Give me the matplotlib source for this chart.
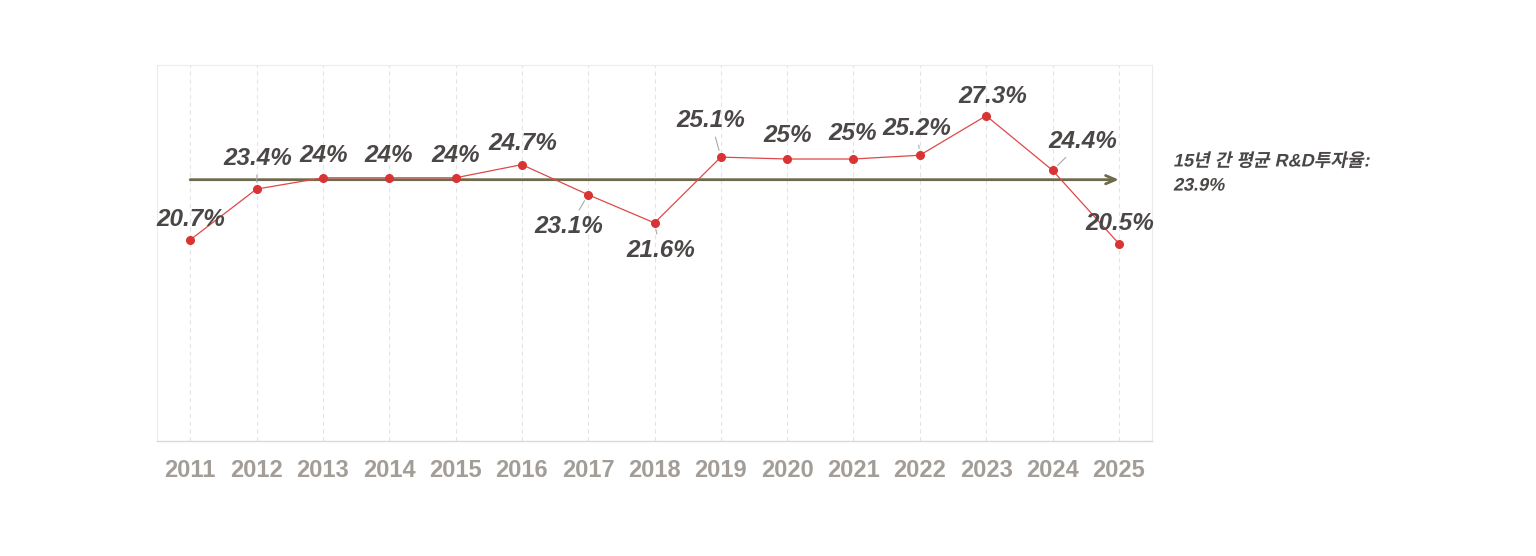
import matplotlib
matplotlib.use("Agg")
import matplotlib.pyplot as plt
from matplotlib.patheffects import AbstractPathEffect
from matplotlib.transforms import Affine2D

years = ["2011", "2012", "2013", "2014", "2015", "2016", "2017", "2018",
         "2019", "2020", "2021", "2022", "2023", "2024", "2025"]
rates = [20.7, 23.4, 24.0, 24.0, 24.0, 24.7, 23.1, 21.6,
         25.1, 25.0, 25.0, 25.2, 27.3, 24.4, 20.5]
labels = ["20.7%", "23.4%", "24%", "24%", "24%", "24.7%", "23.1%", "21.6%",
          "25.1%", "25%", "25%", "25.2%", "27.3%", "24.4%", "20.5%"]
average = 23.9
avg_label = "15년 간 평균 R&D투자율:\n23.9%"

# label offsets in pixels (dx, dy) and whether a leader line is drawn
offsets = [(1, 20), (1, 31), (1, 22), (0, 22), (0, 22), (1, 21), (-19, -32), (6, -28),
           (-10, 37), (1, 23), (-1, 25), (-3, 27), (7, 19), (30, 29), (1, 20)]
leaders = [False, True, False, False, False, False, True, True,
           True, False, True, True, False, True, False]


class Oblique(AbstractPathEffect):
    """Slant glyph outlines (synthetic italic for fonts without an italic face)."""
    def __init__(self, angle=12):
        super().__init__()
        self._skew = Affine2D().skew_deg(angle, 0)

    def draw_path(self, renderer, gc, tpath, affine, rgbFace=None):
        renderer.draw_path(gc, tpath, self._skew + affine, rgbFace)


fig = plt.figure(figsize=(15.36, 5.56), dpi=100)
ax = fig.add_axes([157/1536, 115/556, 995/1536, 376/556])

x = list(range(len(years)))
ax.set_xlim(-0.5, len(years) - 0.5)
ax.set_ylim(10, 30)

for xi in x:
    ax.axvline(xi, color="#e4e4e4", lw=0.8, ls=(0, (4, 3)), zorder=0)

# average arrow
ax.annotate("", xy=(x[-1], average), xytext=(x[0], average),
            arrowprops=dict(arrowstyle="->,head_length=0.7,head_width=0.3",
                            color="#6f6a4c", lw=2.0, shrinkA=0, shrinkB=0),
            zorder=2)

ax.plot(x, rates, color="#e04848", lw=0.9, zorder=3)
ax.plot(x, rates, "o", color="#d93434", ms=5.5, zorder=4)

for xi, r, lab, (dx, dy), ld in zip(x, rates, labels, offsets, leaders):
    kw = {}
    if ld:
        kw["arrowprops"] = dict(arrowstyle="-", color="#a8a8a8", lw=0.8,
                                shrinkA=2, shrinkB=5)
    ax.annotate(lab, xy=(xi, r), xytext=(dx, dy), textcoords="offset pixels",
                ha="center", va="center", fontsize=17.5, fontweight="bold",
                fontstyle="italic", color="#4a4746",
                family=["Liberation Sans", "DejaVu Sans"], zorder=5, **kw)

fig.text(1173/1536, 1 - 174/556, avg_label, ha="left", va="center",
         fontsize=13, fontweight="bold", color="#4a4746",
         family=["Liberation Sans", "Noto Sans CJK KR"], linespacing=1.55,
         path_effects=[Oblique(12)])

ax.set_xticks(x)
ax.set_xticklabels(years, fontsize=17, fontweight="bold", color="#a39d98",
                   family=["Liberation Sans", "DejaVu Sans"])
ax.tick_params(axis="x", length=0, pad=13)
ax.set_yticks([])
for s in ["top", "left", "right"]:
    ax.spines[s].set_color("#ececec")
    ax.spines[s].set_linewidth(0.8)
ax.spines["bottom"].set_color("#d9d9d9")
ax.spines["bottom"].set_linewidth(1.0)

fig.savefig("out.png", dpi=100, facecolor="white")
